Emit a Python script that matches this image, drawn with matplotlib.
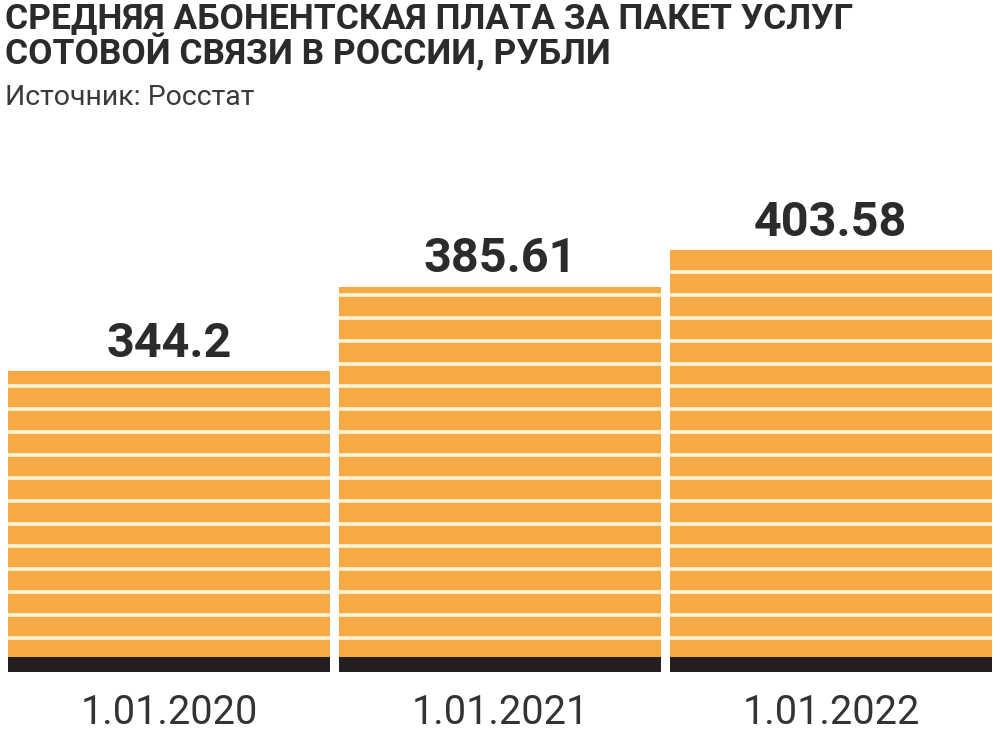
"""
Средняя абонентская плата за пакет услуг сотовой связи в России.
Striped bar chart, newspaper style.
"""
import matplotlib
matplotlib.use('Agg')
import matplotlib.pyplot as plt
import numpy as np

# ── Data ───────────────────────────────────────────────────────────────────────
dates = ["1.01.2020", "1.01.2021", "1.01.2022"]
values = [344.2, 385.61, 403.58]
value_labels = ["344.2", "385.61", "403.58"]

title_lines = ["СРЕДНЯЯ АБОНЕНТСКАЯ ПЛАТА ЗА ПАКЕТ УСЛУГ",
               "СОТОВОЙ СВЯЗИ В РОССИИ, РУБЛИ"]
source = "Источник: Росстат"

# ── Style ──────────────────────────────────────────────────────────────────────
ORANGE = "#F6AA45"
STRIPE = "#FFF4D8"
BLACK = "#231F20"
TEXT = "#2B2B2B"
COND = ["Roboto", "DejaVu Sans"]

Y0 = 197.0            # value at the baseline
Y1 = Y0 + 236.0       # top of axes
BAND = 7.3            # black footing height (data units)
STRIPE_START = 16.7   # first stripe above baseline
STRIPE_STEP = 11.19   # stripe spacing
W = 0.973

# ── Plot ───────────────────────────────────────────────────────────────────────
fig = plt.figure(figsize=(10, 7.47), dpi=100)
ax = fig.add_axes([0, 1 - 672 / 747, 1, 482 / 747])

x = np.arange(len(values))
heights = [v - Y0 for v in values]
ax.bar(x, heights, bottom=Y0, width=W, color=ORANGE, edgecolor='none', zorder=2)
ax.bar(x, [BAND] * len(values), bottom=Y0, width=W, color=BLACK,
       edgecolor='none', zorder=3)

# white stripes across each bar
levels = Y0 + STRIPE_START + STRIPE_STEP * np.arange(30)
for xi, v in zip(x, values):
    lv = levels[levels < v - 1.5]
    ax.hlines(lv, xi - W / 2, xi + W / 2, colors=STRIPE, linewidth=2.6, zorder=3)

for xi, v, lab in zip(x, values, value_labels):
    ax.annotate(lab, (xi, v), xytext=(0, 10.5), textcoords='offset points',
                ha='center', va='baseline', fontsize=35, fontweight='bold',
                color=TEXT, family=COND)

ax.set_xlim(-0.511, 2.511)
ax.set_ylim(Y0, Y1)
ax.set_xticks(x)
ax.set_xticklabels(dates, fontsize=28.5, color='#333333', family=COND)
ax.tick_params(axis='x', length=0, pad=15)
ax.set_yticks([])
for s in ax.spines.values():
    s.set_visible(False)

# ── Titles ─────────────────────────────────────────────────────────────────────
fig.text(0.005, 1 - 28 / 747, title_lines[0], ha='left', va='baseline',
         fontsize=25.5, fontweight='bold', color=TEXT, family=COND)
fig.text(0.005, 1 - 64 / 747, title_lines[1], ha='left', va='baseline',
         fontsize=25.5, fontweight='bold', color=TEXT, family=COND)
fig.text(0.005, 1 - 105 / 747, source, ha='left', va='baseline',
         fontsize=20.5, color='#3A3A3A', family=COND)

fig.savefig("out.png", dpi=100)
plt.close(fig)
